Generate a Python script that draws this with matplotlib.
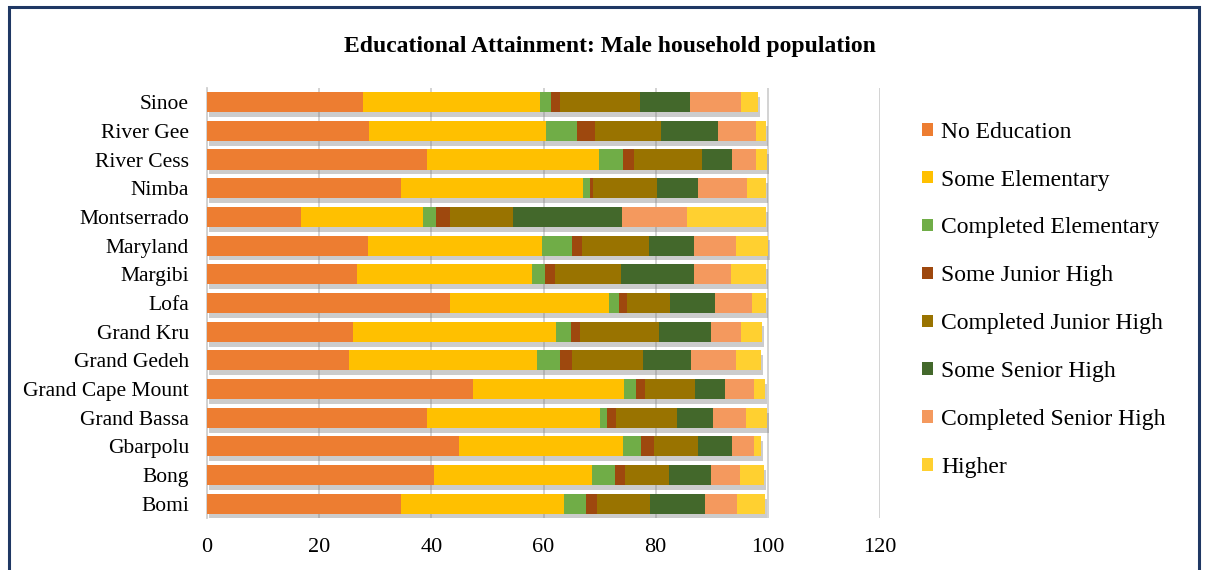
import matplotlib
matplotlib.use("Agg")
import matplotlib.pyplot as plt
import matplotlib.patheffects as pe
from matplotlib.patches import Patch, Rectangle

counties = ["Sinoe", "River Gee", "River Cess", "Nimba", "Montserrado", "Maryland",
            "Margibi", "Lofa", "Grand Kru", "Grand Gedeh", "Grand Cape Mount",
            "Grand Bassa", "Gbarpolu", "Bong", "Bomi"]

categories = ["No Education", "Some Elementary", "Completed Elementary",
              "Some Junior High", "Completed Junior High", "Some Senior High",
              "Completed Senior High", "Higher"]

no_education = [27.8, 28.9, 39.2, 34.6, 16.8, 28.7, 26.7, 43.3, 26.0, 25.3, 47.4, 39.2, 44.9, 40.5, 34.6]
some_elementary = [31.6, 31.5, 30.7, 32.4, 21.7, 31.0, 31.3, 28.4, 36.2, 33.5, 27.0, 30.9, 29.3, 28.2, 29.1]
completed_elementary = [1.9, 5.6, 4.3, 1.3, 2.3, 5.4, 2.3, 1.8, 2.7, 4.1, 2.1, 1.2, 3.2, 4.1, 3.9]
some_junior_high = [1.6, 3.2, 1.9, 0.5, 2.5, 1.8, 1.8, 1.4, 1.6, 2.2, 1.6, 1.6, 2.3, 1.7, 1.9]
completed_junior_high = [14.3, 11.8, 12.2, 11.4, 11.3, 11.9, 11.7, 7.7, 14.1, 12.6, 8.9, 10.9, 7.9, 7.9, 9.5]
some_senior_high = [8.9, 10.1, 5.3, 7.4, 19.4, 8.0, 13.0, 8.0, 9.3, 8.6, 5.4, 6.4, 6.0, 7.5, 9.8]
completed_senior_high = [9.1, 6.8, 4.3, 8.7, 11.6, 7.5, 6.6, 6.6, 5.3, 8.0, 5.1, 5.9, 3.9, 5.1, 5.7]
higher = [3.0, 1.8, 2.0, 3.4, 14.1, 5.7, 6.3, 2.5, 3.8, 4.5, 2.0, 3.8, 1.3, 4.3, 5.0]

series = [no_education, some_elementary, completed_elementary, some_junior_high,
          completed_junior_high, some_senior_high, completed_senior_high, higher]
colors = ["#ED7D31", "#FFC000", "#70AD47", "#9E480E", "#997300", "#43682B", "#F4995E", "#FFD030"]

plt.rcParams["font.family"] = ["Liberation Serif", "DejaVu Serif"]

fig = plt.figure(figsize=(12.08, 5.70), dpi=100)
ax = fig.add_axes([0.1714, 0.091, 0.5571, 0.755])

ypos = list(range(len(counties)))[::-1]
left = [0.0] * len(counties)
shadow = [pe.SimplePatchShadow(offset=(1.5, -3.5), shadow_rgbFace="#808080", alpha=0.4), pe.Normal()]
for vals, col in zip(series, colors):
    bars = ax.barh(ypos, vals, left=left, height=0.7, color=col, edgecolor="none", zorder=3)
    for b in bars:
        b.set_path_effects(shadow)
    left = [l + v for l, v in zip(left, vals)]

ax.set_xlim(0, 120)
ax.set_ylim(-0.5, len(counties) - 0.5)
ax.set_xticks(range(0, 121, 20))
ax.set_yticks(ypos)
ax.set_yticklabels(counties)
ax.tick_params(axis="both", length=0)
ax.tick_params(axis="y", pad=13, labelsize=15.5)
ax.tick_params(axis="x", pad=14, labelsize=16)
ax.grid(axis="x", color="#D0D0D0", linewidth=1.3, zorder=0)
ax.set_axisbelow(True)
for s in ["top", "right", "bottom"]:
    ax.spines[s].set_visible(False)
ax.spines["left"].set_color("#D0D0D0")
ax.spines["left"].set_linewidth(1.3)

handles = [Patch(facecolor=c, edgecolor="none") for c in colors]
fig.legend(handles, categories, loc="center left", bbox_to_anchor=(0.746, 0.474),
           frameon=False, fontsize=17, handlelength=0.45, handleheight=0.45,
           handletextpad=0.35, labelspacing=1.14)

fig.text(0.505, 0.918, "Educational Attainment: Male household population",
         ha="center", va="center", fontsize=17, fontweight="bold")

fig.patches.append(Rectangle((0.0075, -0.05), 0.985, 1.038, transform=fig.transFigure,
                             fill=False, edgecolor="#1F3864", linewidth=2.2))

fig.savefig("out.png", dpi=100)
